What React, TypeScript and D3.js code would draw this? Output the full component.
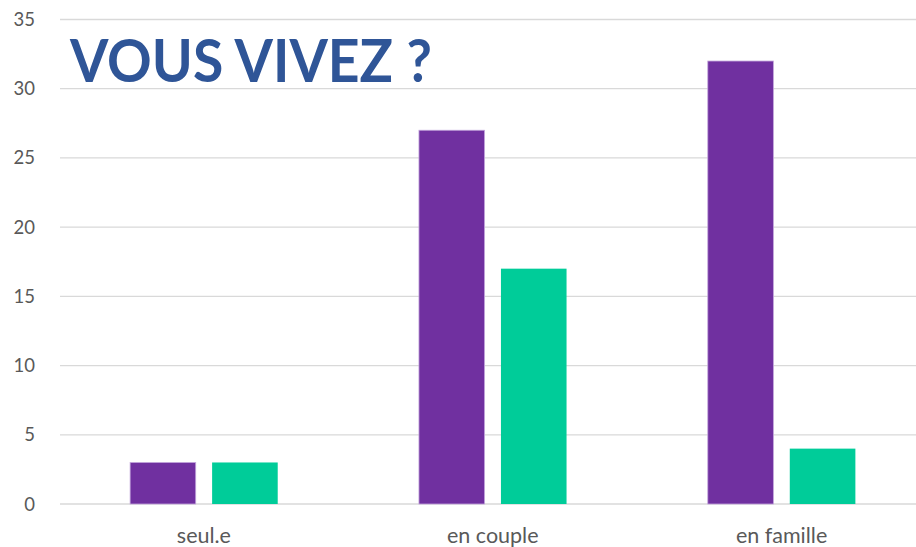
import { useEffect, useRef } from 'react';
import * as d3 from 'd3';

const categories = ['seul.e', 'en couple', 'en famille'];
const seriesNames = ['s1', 's2'];
const purpleValues = [3, 27, 32];
const greenValues = [3, 17, 4];
const yTicks = [0, 5, 10, 15, 20, 25, 30, 35];

const App = () => {
  const ref = useRef<SVGSVGElement>(null!);

  useEffect(() => {
    const width = 916;
    const height = 547;
    const svg = d3.select(ref.current);
    svg.selectAll('*').remove();
    svg.attr('width', width).attr('height', height);

    const x0 = d3
      .scaleBand<string>()
      .domain(categories)
      .range([59.5, 926])
      .paddingInner(0.489)
      .paddingOuter(0.2445);
    const x1 = d3
      .scaleBand<string>()
      .domain(seriesNames)
      .range([0, x0.bandwidth()])
      .paddingInner(0.2);
    const y = d3.scaleLinear().domain([0, 35]).range([504, 19.5]);
    const colors = ['#7030A0', '#00CC99'];

    // grid
    svg
      .append('g')
      .selectAll('line')
      .data(yTicks)
      .enter()
      .append('line')
      .attr('x1', 60)
      .attr('x2', width)
      .attr('y1', d => y(d))
      .attr('y2', d => y(d))
      .attr('stroke', '#d9d9d9')
      .attr('stroke-width', 1.3);

    svg
      .append('g')
      .selectAll('text')
      .data(yTicks)
      .enter()
      .append('text')
      .attr('x', 35)
      .attr('y', d => y(d) + 6.5)
      .attr('text-anchor', 'end')
      .attr('font-family', 'Lato, sans-serif')
      .attr('font-size', 18.5)
      .attr('fill', '#595959')
      .text(d => d);

    const rows = categories.map((c, i) => ({ c, vals: [purpleValues[i], greenValues[i]] }));
    const groups = svg
      .append('g')
      .selectAll('g')
      .data(rows)
      .enter()
      .append('g')
      .attr('transform', d => `translate(${x0(d.c)},0)`);
    groups
      .selectAll('rect')
      .data(d => d.vals.map((v, j) => ({ key: seriesNames[j], v, j })))
      .enter()
      .append('rect')
      .attr('x', d => x1(d.key)!)
      .attr('width', x1.bandwidth())
      .attr('y', d => y(d.v))
      .attr('height', d => y(0) - y(d.v))
      .attr('fill', d => colors[d.j])
      .attr('stroke', d => (d.j === 0 ? '#c3a6dc' : 'none'))
      .attr('stroke-width', 0.8);

    svg
      .append('g')
      .selectAll('text')
      .data(categories)
      .enter()
      .append('text')
      .attr('x', d => x0(d)! + x0.bandwidth() / 2)
      .attr('y', 543)
      .attr('text-anchor', 'middle')
      .attr('font-family', 'Lato, sans-serif')
      .attr('font-size', 21.5)
      .attr('fill', '#595959')
      .text(d => d);

    svg
      .append('text')
      .attr('x', 70)
      .attr('y', 82)
      .attr('font-family', 'Lato, sans-serif')
      .attr('font-weight', 'bold')
      .attr('font-size', 60)
      .attr('fill', '#2F5597')
      .attr('textLength', 362)
      .attr('lengthAdjust', 'spacingAndGlyphs')
      .text('VOUS VIVEZ ?');
  }, []);

  return <svg ref={ref} style={{ position: 'absolute', left: 0, top: 0 }}></svg>;
};

export default App;
